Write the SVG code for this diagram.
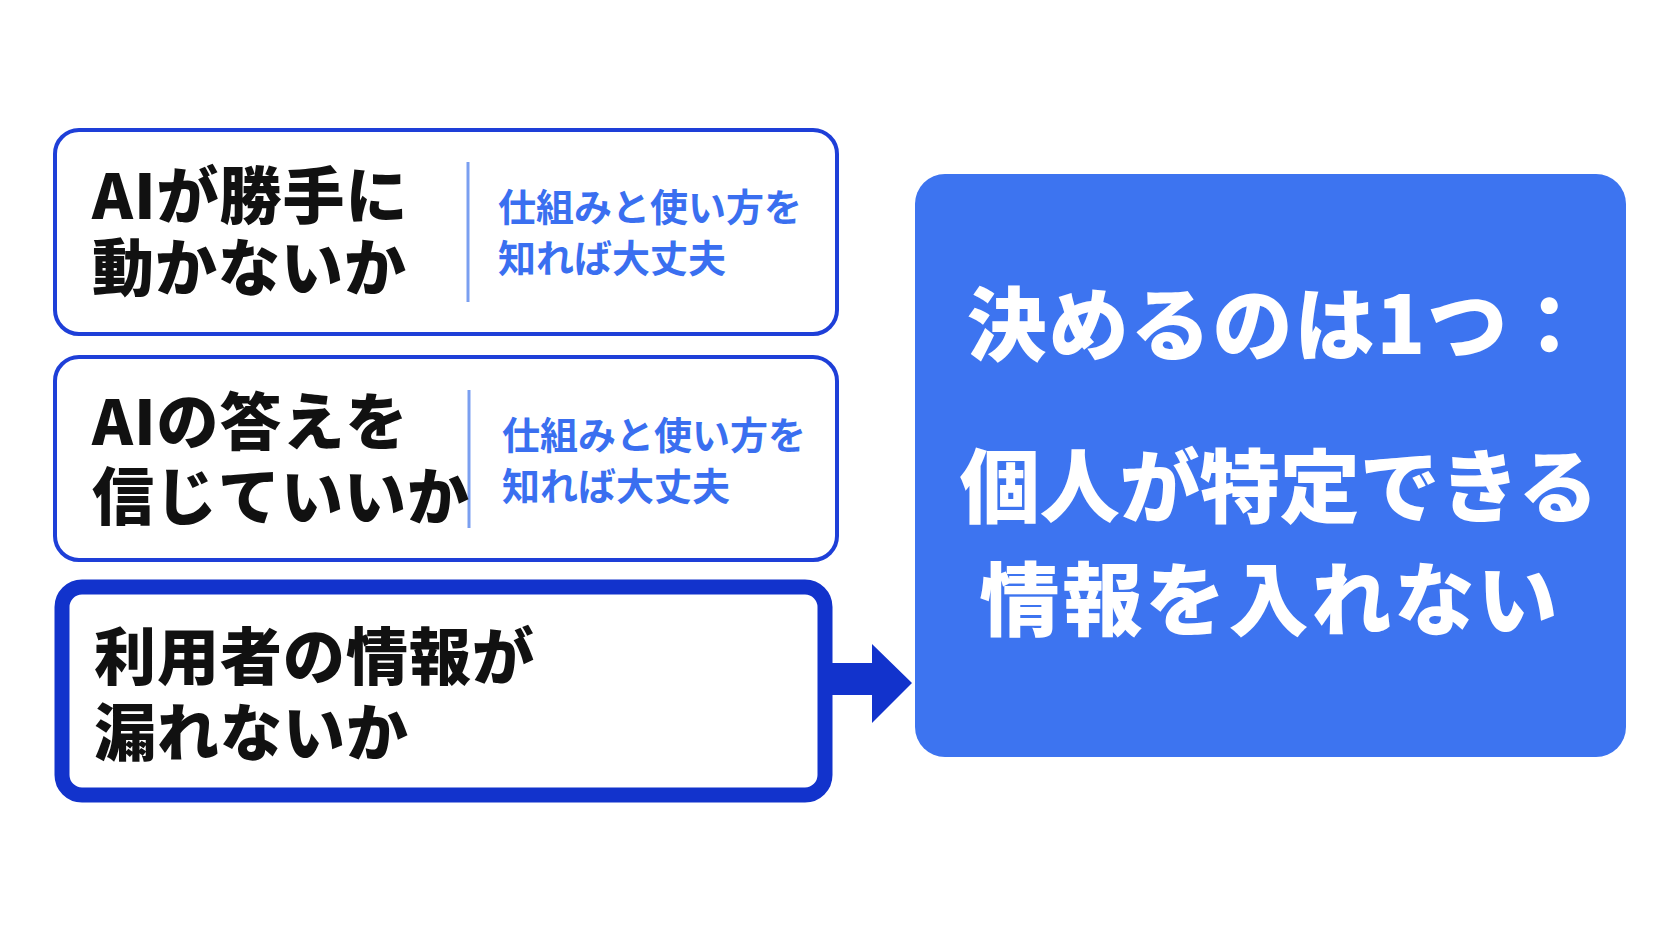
<svg xmlns="http://www.w3.org/2000/svg" width="1672" height="941" viewBox="0 0 1672 941">
<style>
.t{font-family:"Noto Sans CJK JP","Noto Sans",sans-serif;font-weight:900;fill:#111;font-size:62px;letter-spacing:1px}
.s{font-family:"Noto Sans CJK JP","Noto Sans",sans-serif;font-weight:700;fill:#3a6ff0;font-size:38px}
.w{font-family:"Noto Sans CJK JP","Noto Sans",sans-serif;font-weight:900;fill:#fff;font-size:80px;text-anchor:middle}
.b{fill:#fff;stroke:#1e3fd8;stroke-width:4}
</style>
<rect width="1672" height="941" fill="#fff"/>
<g id="n1"><rect class="b" x="55" y="130" width="782" height="204" rx="24"/>
<line x1="468" y1="162" x2="468" y2="302" stroke="#7a9ff0" stroke-width="3"/>
<text class="t" x="92" y="219">AIが勝手に</text><text class="t" x="92" y="291">動かないか</text>
<text class="s" x="498" y="221">仕組みと使い方を</text><text class="s" x="498" y="272">知れば大丈夫</text></g>
<g id="n2"><rect class="b" x="55" y="357" width="782" height="203" rx="24"/>
<line x1="469" y1="390" x2="469" y2="528" stroke="#7a9ff0" stroke-width="3"/>
<text class="t" x="92" y="445">AIの答えを</text><text class="t" x="92" y="520" font-size="61" letter-spacing="0">信じていいか</text>
<text class="s" x="502" y="449">仕組みと使い方を</text><text class="s" x="502" y="500">知れば大丈夫</text></g>
<g id="n3"><rect x="62" y="587" width="763" height="208" rx="20" fill="#fff" stroke="#1233cc" stroke-width="15"/>
<text class="t" x="94" y="680">利用者の情報が</text><text class="t" x="94" y="756">漏れないか</text></g>
<g id="connectors"><path d="M832 663H872V644L912 683L872 723V695H832Z" fill="#1233cc"/></g>
<g id="n4"><rect x="915" y="174" width="711" height="583" rx="30" fill="#3d74f0"/>
<text class="w" x="1279" y="354" letter-spacing="2">決めるのは1つ：</text>
<text class="w" x="1279" y="516">個人が特定できる</text>
<text class="w" x="1270" y="629" font-size="84" letter-spacing="3">情報を入れない</text></g>
</svg>
